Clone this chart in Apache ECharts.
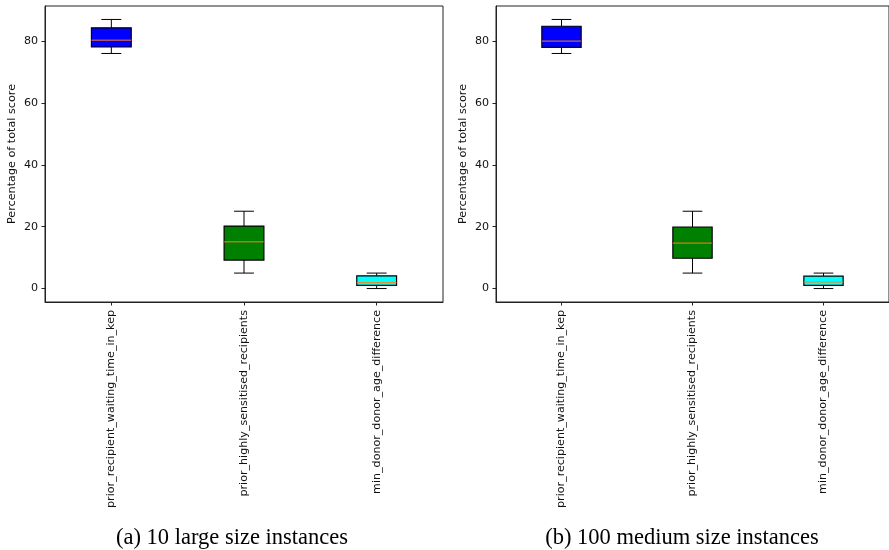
<!DOCTYPE html>
<html>
<head>
<meta charset="utf-8">
<script src="https://cdn.jsdelivr.net/npm/echarts@6/dist/echarts.min.js"></script>
<style>
html,body{margin:0;padding:0;background:#fff;}
#chart{width:889px;height:550px;}
</style>
</head>
<body>
<div id="chart"></div>
<script>
// ---- data ----
const categories = ['prior_recipient_waiting_time_in_kep', 'prior_highly_sensitised_recipients', 'min_donor_donor_age_difference'];
// [min, q1, median, q3, max]
const largeStats = [
  [76, 78.1, 80.3, 84.3, 87],
  [5, 9.2, 15.1, 20.2, 25],
  [0, 1.0, 1.9, 4.1, 5]
];
const mediumStats = [
  [76, 78, 80, 84.8, 87],
  [5, 9.8, 14.7, 19.9, 25],
  [0, 1.0, 2.1, 4.0, 5]
];
const yTicks = [0, 20, 40, 60, 80];
const yName = 'Percentage of total score';
const captions = ['(a) 10 large size instances', '(b) 100 medium size instances'];

// ---- styles ----
const boxColors = ['#0000ff', '#008000', '#00ffff'];
const medianColor = '#ff7f0e';
const txt = '#111';

function toSeriesData(stats) {
  return stats.map((s, i) => [i].concat(s));
}

function renderBox(params, api) {
  const x = api.value(0);
  const lo = api.coord([x, api.value(1)]);
  const q1 = api.coord([x, api.value(2)]);
  const med = api.coord([x, api.value(3)]);
  const q3 = api.coord([x, api.value(4)]);
  const hi = api.coord([x, api.value(5)]);
  const band = api.size([1, 0])[0];
  const bw = band * 0.3;
  const cw = bw / 2;
  const cx = lo[0];
  const ls = {stroke: '#000', lineWidth: 1};
  return {
    type: 'group',
    children: [
      {type: 'line', shape: {x1: cx, y1: lo[1], x2: cx, y2: q1[1]}, style: ls},
      {type: 'line', shape: {x1: cx, y1: q3[1], x2: cx, y2: hi[1]}, style: ls},
      {type: 'line', shape: {x1: cx - cw / 2, y1: lo[1], x2: cx + cw / 2, y2: lo[1]}, style: ls},
      {type: 'line', shape: {x1: cx - cw / 2, y1: hi[1], x2: cx + cw / 2, y2: hi[1]}, style: ls},
      {type: 'rect', shape: {x: cx - bw / 2, y: q3[1], width: bw, height: q1[1] - q3[1]},
        style: {fill: boxColors[params.dataIndex], stroke: '#000', lineWidth: 1.2}},
      {type: 'line', shape: {x1: cx - bw / 2, y1: med[1], x2: cx + bw / 2, y2: med[1]},
        style: {stroke: medianColor, lineWidth: 1}}
    ]
  };
}

const grids = [
  {left: 45, top: 6, width: 398, height: 296},
  {left: 496, top: 6, width: 397, height: 296}
];

function xAxis(gi) {
  return {
    type: 'category', gridIndex: gi, data: categories, boundaryGap: true,
    axisLine: {show: true, onZero: false, lineStyle: {color: '#222', width: 1}},
    axisTick: {show: true, alignWithLabel: true, length: 3.5, lineStyle: {color: '#222'}},
    axisLabel: {rotate: 90, fontFamily: 'DejaVu Sans', fontSize: 11.1, color: txt, margin: 8, interval: 0},
    splitLine: {show: false}
  };
}
function yAxis(gi) {
  return {
    type: 'value', gridIndex: gi, min: -4.35, max: 91.35,
    name: yName, nameLocation: 'middle', nameGap: 27,
    nameTextStyle: {fontFamily: 'DejaVu Sans', fontSize: 11.2, color: txt},
    axisLine: {show: true, lineStyle: {color: '#222', width: 1}},
    axisTick: {show: true, length: 3.5, customValues: yTicks, lineStyle: {color: '#222'}},
    axisLabel: {customValues: yTicks, fontFamily: 'DejaVu Sans', fontSize: 11.1, color: txt, margin: 7},
    splitLine: {show: false}
  };
}

const chart = echarts.init(document.getElementById('chart'), null, {renderer: 'canvas'});
chart.setOption({
  animation: false,
  backgroundColor: '#fff',
  grid: grids.map(g => Object.assign({show: true, borderColor: '#222', borderWidth: 1, backgroundColor: 'transparent'}, g)),
  xAxis: [xAxis(0), xAxis(1)],
  yAxis: [yAxis(0), yAxis(1)],
  title: [
    {text: captions[0], left: 227, top: 522, textAlign: 'center',
      textStyle: {fontFamily: 'Liberation Serif', fontSize: 22.5, fontWeight: 'normal', color: '#000'}},
    {text: captions[1], left: 677, top: 522, textAlign: 'center',
      textStyle: {fontFamily: 'Liberation Serif', fontSize: 22.5, fontWeight: 'normal', color: '#000'}}
  ],
  series: [
    {type: 'custom', xAxisIndex: 0, yAxisIndex: 0, renderItem: renderBox,
      encode: {x: 0, y: [1, 2, 3, 4, 5]}, data: toSeriesData(largeStats)},
    {type: 'custom', xAxisIndex: 1, yAxisIndex: 1, renderItem: renderBox,
      encode: {x: 0, y: [1, 2, 3, 4, 5]}, data: toSeriesData(mediumStats)}
  ]
});
</script>
</body>
</html>
